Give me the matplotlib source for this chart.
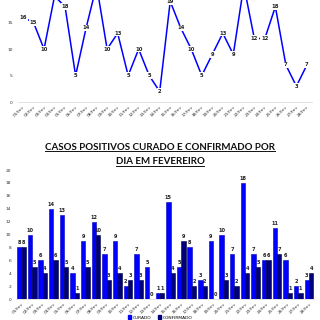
import numpy as np
import matplotlib
matplotlib.use('Agg')
import matplotlib.pyplot as plt
from matplotlib.lines import Line2D
from matplotlib.patches import Patch

dias = ['%02d/fev' % d for d in range(1, 29)]
curado = [8, 10, 6, 14, 13, 4, 9, 12, 7, 9, 2, 7, 5, 1,
          15, 5, 8, 3, 9, 10, 7, 18, 7, 6, 11, 6, 2, 3]
confirmado = [8, 5, 4, 6, 5, 1, 5, 10, 3, 4, 3, 3, 0, 1,
              4, 9, 2, 2, 0, 3, 2, 4, 5, 6, 7, 1, 1, 4]
total = [a + b for a, b in zip(curado, confirmado)]

azul = '#0000FF'
marinho = '#00007A'

fig = plt.figure(figsize=(3.2, 3.2), dpi=100)
x = np.arange(len(dias))

# grafico de linha (o topo fica fora da imagem, como no original)
ax1 = fig.add_axes([0.0555, 0.681, 0.92, 0.414])
ax1.plot(x, total, color=azul, linewidth=1.1, zorder=2)
for xi, v in zip(x, total):
    if v >= 20:
        continue  # rotulo fora da area visivel
    ax1.text(xi, v, str(v), ha='center', va='center', fontsize=3.8,
             fontweight='bold', color='#222222', zorder=3,
             bbox=dict(boxstyle='square,pad=0.15', fc='white', ec='none'))
ax1.set_xlim(-0.5, len(dias) - 0.5)
ax1.set_ylim(0, 25)
ax1.set_yticks([0, 5, 10, 15])
ax1.set_xticks(x)
ax1.set_xticklabels(dias, rotation=45, ha='right', rotation_mode='anchor')
ax1.tick_params(axis='both', length=0, labelsize=3.2, colors='#333333')
ax1.tick_params(axis='x', pad=2)
for s in ['top', 'right', 'left']:
    ax1.spines[s].set_visible(False)
ax1.spines['bottom'].set_color('#dddddd')
ax1.spines['bottom'].set_linewidth(0.6)

# grafico de barras
ax2 = fig.add_axes([0.0506, 0.0656, 0.9316, 0.403])
w = 0.41
ax2.bar(x - w / 2, curado, w, color=azul, edgecolor='#0000B0', linewidth=0.4, label='CURADO')
ax2.bar(x + w / 2, confirmado, w, color=marinho, edgecolor='#000040', linewidth=0.4, label='CONFIRMADO')
for xi, v in zip(x, curado):
    ax2.text(xi - w / 2, v + 0.3, str(v), ha='center', va='bottom', fontsize=3.6, fontweight='bold', color='#222222')
for xi, v in zip(x, confirmado):
    ax2.text(xi + w / 2, v + 0.3, str(v), ha='center', va='bottom', fontsize=3.6, fontweight='bold', color='#222222')
ax2.set_xlim(-0.5, len(dias) - 0.5)
ax2.set_ylim(0, 20)
ax2.set_yticks(range(0, 21, 2))
ax2.set_xticks(x)
ax2.set_xticklabels(dias, rotation=45, ha='right', rotation_mode='anchor')
ax2.tick_params(axis='both', length=0, labelsize=3.2, colors='#333333')
ax2.tick_params(axis='x', pad=2)
for s in ['top', 'right', 'left']:
    ax2.spines[s].set_visible(False)
ax2.spines['bottom'].set_color('#dddddd')
ax2.spines['bottom'].set_linewidth(0.6)

fig.legend(handles=[Patch(color=azul, label='CURADO'), Patch(color=marinho, label='CONFIRMADO')],
           loc='lower center', bbox_to_anchor=(0.5, 0.0), ncol=2, frameon=False,
           fontsize=3.2, handlelength=0.8, handleheight=0.8, columnspacing=1.5,
           handletextpad=0.3, borderpad=0.1, borderaxespad=0.0)

# titulo sublinhado
linhas = ['CASOS POSITIVOS CURADO E CONFIRMADO POR', 'DIA EM FEVEREIRO']
ys = [1 - 147 / 320, 1 - 162 / 320]
fig.canvas.draw()
r = fig.canvas.get_renderer()
for t, y in zip(linhas, ys):
    txt = fig.text(0.5, y, t, ha='center', va='center', fontsize=7.0,
                   fontweight='bold', family=['Lato', 'DejaVu Sans'], color='#111111')
    bb = txt.get_window_extent(renderer=r).transformed(fig.transFigure.inverted())
    fig.add_artist(Line2D([bb.x0, bb.x1], [bb.y0 + 0.002, bb.y0 + 0.002],
                          transform=fig.transFigure, color='#111111', linewidth=0.7))

fig.savefig('out.png', dpi=100)
